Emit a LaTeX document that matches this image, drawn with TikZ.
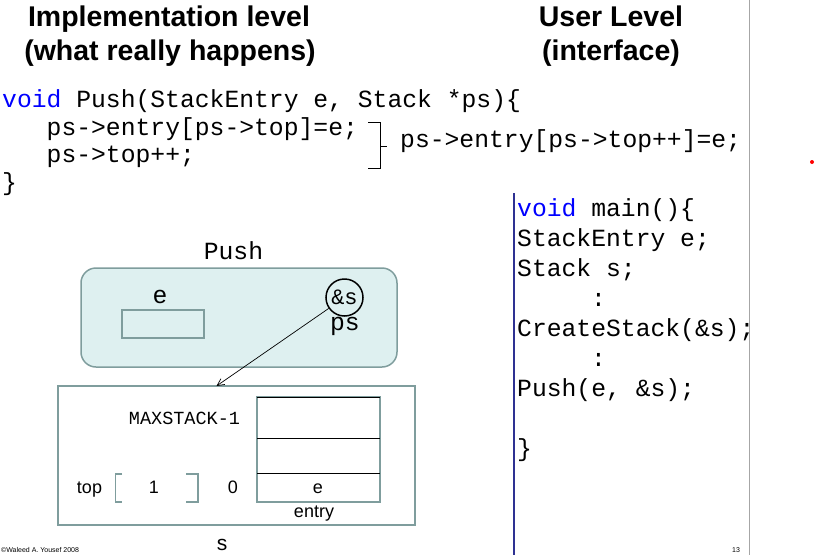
\documentclass[tikz,border=0pt]{standalone}
\usepackage{fontspec}
\setmainfont{Liberation Sans}
\setmonofont{Liberation Mono}
\usetikzlibrary{positioning}
\usetikzlibrary{arrows.meta}

\definecolor{boxgray}{RGB}{127,157,157}
\definecolor{boxfill}{RGB}{222,240,240}
\definecolor{keyblue}{RGB}{0,0,255}
\definecolor{rulegray}{RGB}{166,166,166}
\definecolor{ruleblue}{RGB}{46,49,146}

\newcommand{\cdfont}{\fontsize{24.7}{30}\selectfont\ttfamily}
\newcommand{\smallcd}{\fontsize{18.5}{22}\selectfont\ttfamily}
\newcommand{\headfont}{\fontsize{28.5}{33}\selectfont\bfseries}
\newcommand{\lblfont}{\fontsize{18}{22}\selectfont}
\newcommand{\kw}[1]{\textcolor{keyblue}{#1}}

\tikzset{
  code/.style={font=\cdfont, anchor=base west, inner sep=0pt},
  head/.style={font=\headfont, anchor=base, inner sep=0pt},
  lbl/.style={font=\lblfont, anchor=base, inner sep=0pt},
  frame/.style={draw=boxgray, line width=1.5pt},
  pushbox/.style={frame, fill=boxfill, rounded corners=15pt, minimum width=316pt, minimum height=99pt},
}

\begin{document}
\begin{tikzpicture}[x=1pt, y=-1pt]
\useasboundingbox (0,0) rectangle (815,555);

% headings
\node[head] (impl1) at (169,26.7) {Implementation level};
\node[head] (impl2) at (170,60) {(what really happens)};
\node[head] (user1) at (611,26.7) {User Level};
\node[head] (user2) at (611,60) {(interface)};

% rules
\draw[rulegray, line width=1.2pt] (749.5,0) -- (749.5,555);
\draw[ruleblue, line width=2.2pt] (514,193) -- (514,555);
\fill[red] (812,162) circle (2pt);

% Push source
\node[code] (l1) at (2,107) {\kw{void} Push(StackEntry e, Stack *ps)\{};
\node[code] (l2) at (46.5,135) {ps->entry[ps->top]=e;};
\node[code] (l3) at (46.5,162.5) {ps->top++;};
\node[code] (l4) at (2,190) {\}};
\draw[line width=0.8pt] (368,122) -- (380,122) -- (380,168) -- (368,168);
\draw[line width=0.8pt] (380,146) -- (387,146);
\node[code] (short) at (400,147) {ps->entry[ps->top++]=e;};

% main source
\node[code] (m1) at (517,216.7) {\kw{void} main()\{};
\node[code] (m2) at (517,246.7) {StackEntry e;};
\node[code] (m3) at (517,276.7) {Stack s;};
\node[code] (m4) at (591,306.7) {:};
\node[code] (m5) at (517,336.7) {CreateStack(\&s);};
\node[code] (m6) at (591,366.7) {:};
\node[code] (m7) at (517,396.7) {Push(e, \&s);};
\node[code] (m8) at (517,456.7) {\}};

% Push frame
\node[code, anchor=base] (pushlbl) at (233.5,259) {Push};
\node[pushbox] (push) at (239,317.5) {};
\node[frame, minimum width=82pt, minimum height=28pt, inner sep=0pt] (ebox) at (163,324) {};
\node[code, anchor=base] (elbl) at (160,303) {e};
\node[draw, circle, line width=1.5pt, minimum size=37pt, inner sep=0pt,
      font=\fontsize{22}{24}\selectfont\ttfamily] (amp) at (344.5,297.5) {\&s};
\node[code, anchor=base] (pslbl) at (345,330) {ps};

% stack s
\node[frame, fill=white, minimum width=357pt, minimum height=139pt, inner sep=0pt] (sbox) at (236.5,455.5) {};
\coordinate (stip) at (216.5,386);
\draw[-{Straight Barb[length=7pt,width=7pt]}, line width=0.7pt] (amp) -- (stip);
\node[font=\smallcd, anchor=base, inner sep=0pt] (maxlbl) at (184.5,424) {MAXSTACK-1};
\draw[frame] (257,397) rectangle (380,502);
\draw[line width=0.8pt] (257,397) -- (380,397);
\draw[line width=0.8pt] (257,438) -- (380,438);
\draw[line width=0.8pt] (257,473) -- (380,473);
\node[lbl] (topval) at (318,493) {e};
\node[lbl] (entrylbl) at (314,517) {entry};
\node[lbl] (zero) at (233,493) {0};
\node[lbl] (one) at (154,493) {1};
\node[lbl] (toplbl) at (89.5,493) {top};
\draw[frame, line width=1.2pt] (122,474) -- (115.5,474) -- (115.5,502) -- (122,502);
\draw[frame, line width=1.2pt] (186,474) -- (198,474) -- (198,502) -- (186,502);
\node[font=\fontsize{21}{24}\selectfont, anchor=base, inner sep=0pt] (slbl) at (222,550.5) {s};

% footer
\node[anchor=south west, font=\fontsize{7}{8}\selectfont, inner sep=0pt] (foot) at (1,553) {\copyright Waleed A. Yousef 2008};
\node[anchor=south west, font=\fontsize{7}{8}\selectfont, inner sep=0pt] (pageno) at (732,553) {13};

\end{tikzpicture}
\end{document}
